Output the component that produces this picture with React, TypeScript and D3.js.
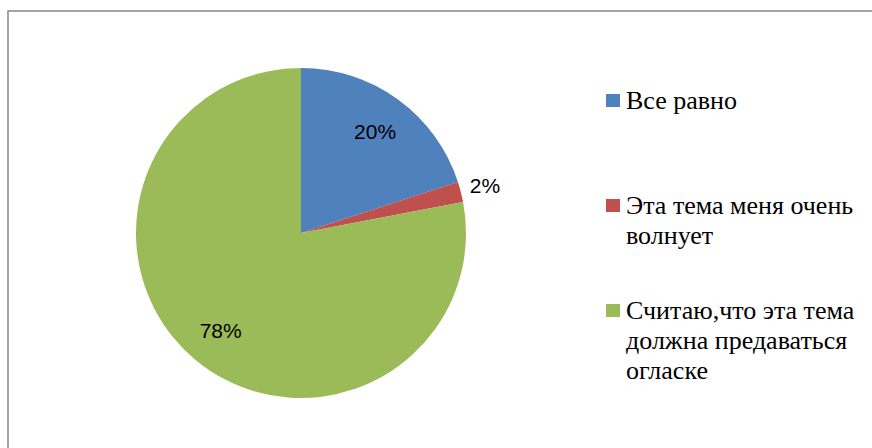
import React from 'react';
import * as d3 from 'd3';

// chart data
const categories = ['Все равно', 'Эта тема меня очень волнует', 'Считаю,что эта тема должна предаваться огласке'];
const legendLines = [['Все равно'], ['Эта тема меня очень', 'волнует'], ['Считаю,что эта тема', 'должна предаваться', 'огласке']];
const values = [20, 2, 78];
const colors = ['#4F81BD', '#C0504D', '#9BBB59'];

const W = 872;
const H = 448;

export default function App() {
  const cx = 301;
  const cy = 233;
  const r = 165;

  const pie = d3.pie<number>().sort(null).value(d => d);
  const arcs = pie(values);
  const arc = d3.arc<d3.PieArcDatum<number>>().innerRadius(0).outerRadius(r);
  const inLabel = d3.arc<d3.PieArcDatum<number>>().innerRadius(126).outerRadius(126);
  const outLabel = d3.arc<d3.PieArcDatum<number>>().innerRadius(190).outerRadius(190);
  const total = d3.sum(values);

  // legend layout
  const legendX = 606;
  const entryTop = [108.5, 213.5, 318.5];
  const lineH = 30;

  return (
    <svg width={W} height={H} style={{ position: 'fixed', left: 0, top: 0, background: '#fff' }}>
      <rect x={8} y={11} width={W} height={H} fill="#fff" stroke="#868686" strokeWidth={1.5} />
      <g transform={`translate(${cx},${cy})`}>
        {arcs.map((a, i) => (
          <path key={i} d={arc(a) || ''} fill={colors[i]} />
        ))}
        {arcs.map((a, i) => {
          const small = a.value / total < 0.05;
          const [x, y] = (small ? outLabel : inLabel).centroid(a);
          return (
            <text key={i} x={x} y={y} textAnchor="middle" dominantBaseline="central"
              fontFamily="'Liberation Sans', Arial, sans-serif" fontSize={21} fill="#000">
              {Math.round((a.value / total) * 100)}%
            </text>
          );
        })}
      </g>
      {categories.map((c, i) => (
        <g key={c}>
          <rect x={legendX} y={entryTop[i] - 14.5} width={14} height={13} fill={colors[i]} />
          {legendLines[i].map((ln, j) => (
            <text key={j} x={legendX + 20} y={entryTop[i] + j * lineH}
              style={{ fontFamily: '"Liberation Serif", "Times New Roman", serif', fontSize: '26px' }} fill="#000">
              {ln}
            </text>
          ))}
        </g>
      ))}
    </svg>
  );
}
